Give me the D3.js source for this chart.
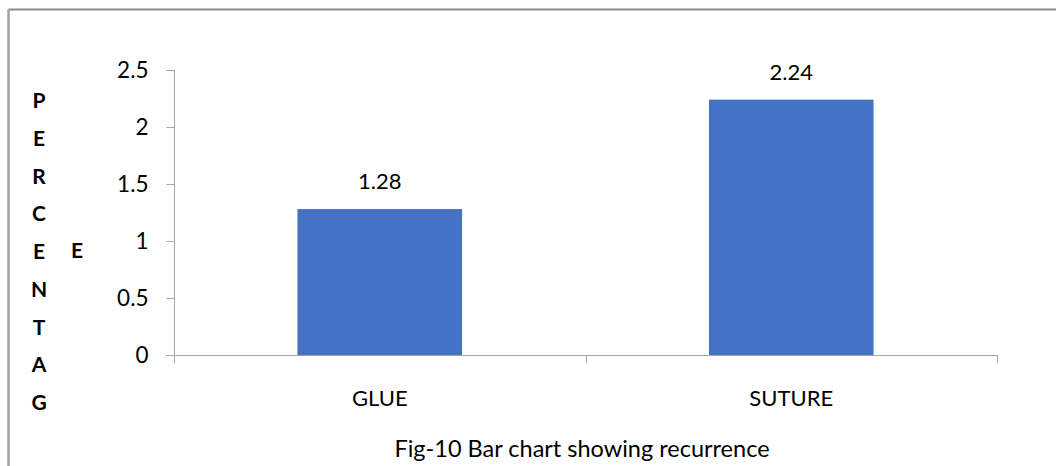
<!DOCTYPE html>
<html>
<head>
<meta charset="utf-8">
<script src="https://cdn.jsdelivr.net/npm/d3@7"></script>
<style>
  html, body { margin: 0; padding: 0; background: #fff; }
  svg { display: block; }
  text { font-family: Lato, "Open Sans", sans-serif; fill: #000; }
</style>
</head>
<body>
<svg id="chart" width="1056" height="466"></svg>
<script>
// Recurrence by closure method
const categories = ["GLUE", "SUTURE"];
const values = [1.28, 2.24];
const yTicks = [0, 0.5, 1, 1.5, 2, 2.5];
const yTitleColumn = ["P", "E", "R", "C", "E", "N", "T", "A", "G"];
const yTitleExtra = "E";
const caption = "Fig-10 Bar chart showing recurrence";

const svg = d3.select("#chart");
const W = 1056, H = 466;
const plot = { left: 174, right: 997, top: 70, bottom: 355 };
const axisColor = "#a6a6a6";

// Outer frame (top and left edges visible)
svg.append("line").attr("x1", 8.5).attr("x2", W).attr("y1", 9.5).attr("y2", 9.5)
  .attr("stroke", "#8c8c8c").attr("stroke-width", 2);
svg.append("line").attr("x1", 8.5).attr("x2", 8.5).attr("y1", 9.5).attr("y2", H)
  .attr("stroke", "#a0a0a0").attr("stroke-width", 2.5);

const x = d3.scaleBand()
  .domain(categories)
  .range([plot.left, plot.right])
  .paddingInner(0.6)
  .paddingOuter(0.3);

const y = d3.scaleLinear().domain([0, 2.5]).range([plot.bottom, plot.top]);

// Y axis
const yAxis = d3.axisLeft(y).tickValues(yTicks).tickSize(8).tickPadding(18)
  .tickFormat(d3.format("~g"));
const gy = svg.append("g").attr("transform", `translate(${plot.left + 0.5},0)`).call(yAxis);
gy.select(".domain").attr("stroke", axisColor).attr("d", `M-8,${plot.top + 0.5}H0V${plot.bottom + 0.5}`);
gy.selectAll(".tick line").attr("stroke", axisColor);
gy.selectAll(".tick text").style("font-size", "22.5px").style("font-family", "Lato, sans-serif").attr("fill", "#000");
gy.selectAll(".tick").attr("transform", d => `translate(0,${Math.round(y(d)) + 0.5})`);

// X axis line with category boundary ticks
const boundaries = d3.range(categories.length + 1).map(i => plot.left + i * (plot.right - plot.left) / categories.length);
svg.append("line")
  .attr("x1", plot.left - 8).attr("x2", plot.right + 0.5)
  .attr("y1", plot.bottom + 0.5).attr("y2", plot.bottom + 0.5)
  .attr("stroke", axisColor);
svg.selectAll(".xtick").data(boundaries).join("line")
  .attr("class", "xtick")
  .attr("x1", d => Math.round(d) + 0.5).attr("x2", d => Math.round(d) + 0.5)
  .attr("y1", plot.bottom).attr("y2", plot.bottom + 8)
  .attr("stroke", axisColor);

// Bars
svg.selectAll(".bar").data(values).join("rect")
  .attr("class", "bar")
  .attr("x", (d, i) => x(categories[i]))
  .attr("width", x.bandwidth())
  .attr("y", d => y(d))
  .attr("height", d => y(0) - y(d))
  .attr("fill", "#4472c4");

// Value labels
svg.selectAll(".val").data(values).join("text")
  .attr("class", "val")
  .attr("x", (d, i) => x(categories[i]) + x.bandwidth() / 2)
  .attr("y", d => y(d) - 20)
  .attr("text-anchor", "middle")
  .style("font-size", "22px")
  .text(d => d3.format(".2f")(d));

// Category labels
svg.selectAll(".cat").data(categories).join("text")
  .attr("class", "cat")
  .attr("x", d => x(d) + x.bandwidth() / 2)
  .attr("y", 406)
  .attr("text-anchor", "middle")
  .style("font-size", "22px")
  .text(d => d);

// Stacked y-axis title letters
svg.selectAll(".ylet").data(yTitleColumn).join("text")
  .attr("class", "ylet")
  .attr("x", 39)
  .attr("y", (d, i) => 108 + i * 37.75)
  .attr("text-anchor", "middle")
  .style("font-size", "21px")
  .style("font-weight", "bold")
  .text(d => d);
svg.append("text")
  .attr("x", 77).attr("y", 258)
  .attr("text-anchor", "middle")
  .style("font-size", "21px")
  .style("font-weight", "bold")
  .text(yTitleExtra);

// Caption
svg.append("text")
  .attr("x", 582).attr("y", 457)
  .attr("text-anchor", "middle")
  .style("font-size", "23.5px")
  .text(caption);
</script>
</body>
</html>
